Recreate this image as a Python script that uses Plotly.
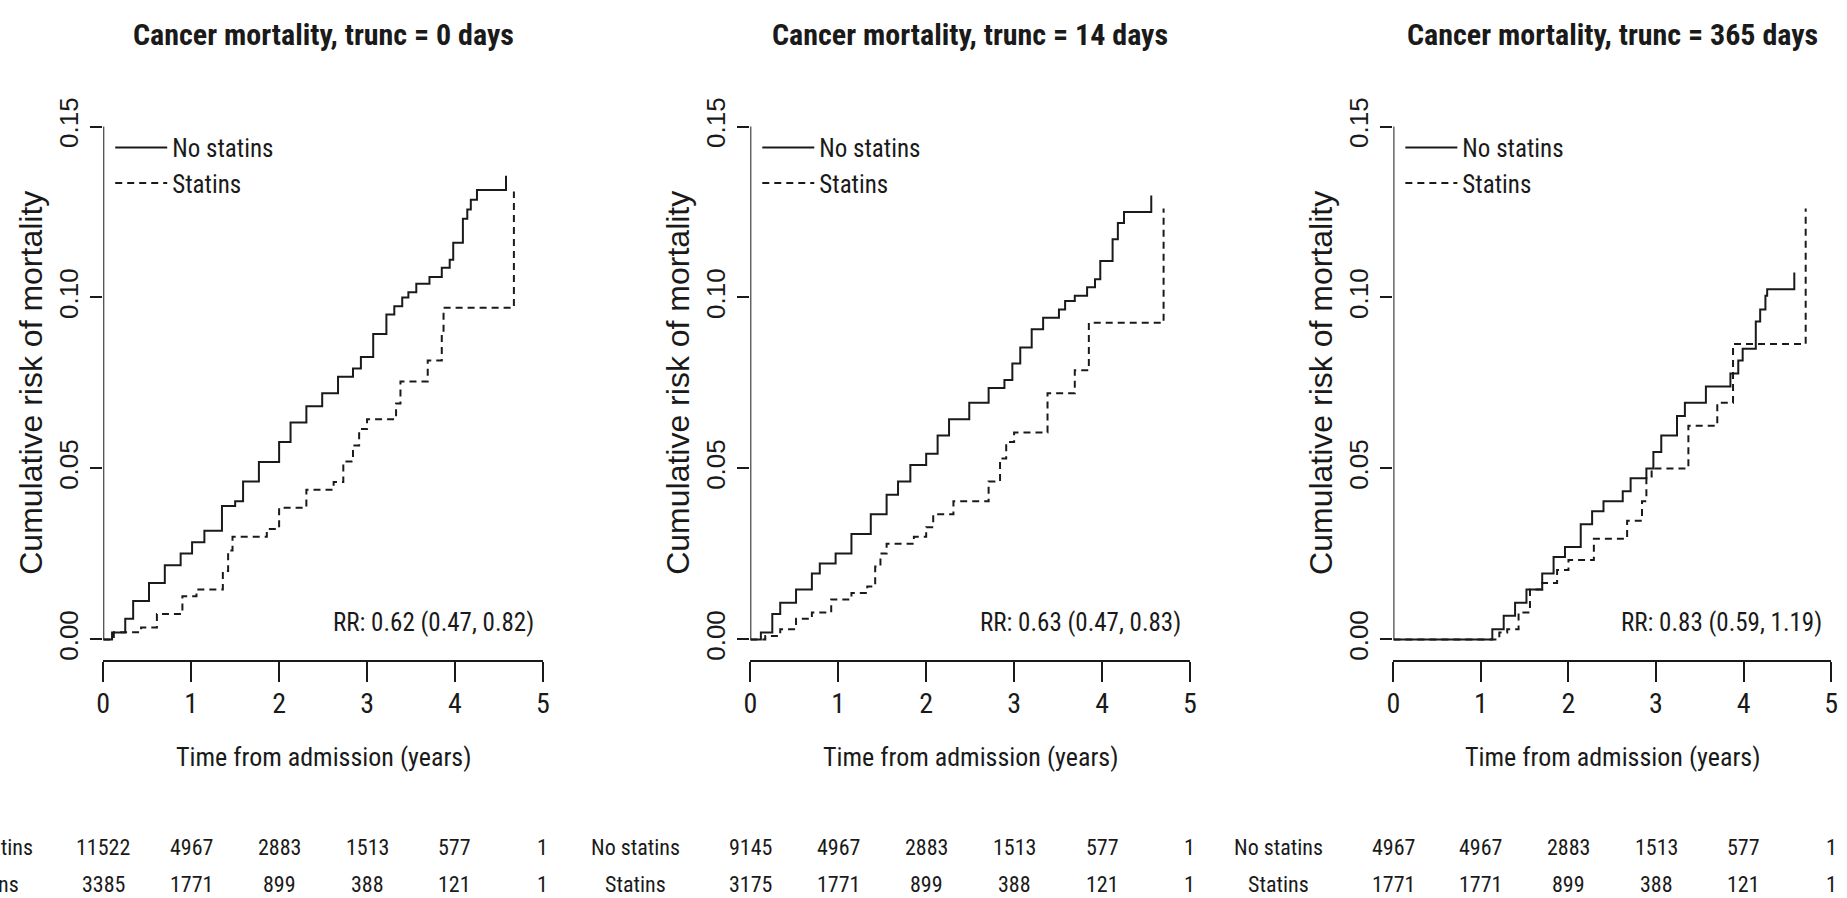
import plotly.graph_objects as go

# ---------------- data ----------------
TIME_TICKS = [0, 1, 2, 3, 4, 5]
RISK_TICKS = [0.0, 0.05, 0.10, 0.15]
RISK_TICK_TEXT = ["0.00", "0.05", "0.10", "0.15"]
SERIES_NAMES = ["No statins", "Statins"]
PANEL_TITLES = ["Cancer mortality, trunc = 0 days",
                "Cancer mortality, trunc = 14 days",
                "Cancer mortality, trunc = 365 days"]
RR_TEXT = ["RR: 0.62 (0.47, 0.82)", "RR: 0.63 (0.47, 0.83)", "RR: 0.83 (0.59, 1.19)"]

# panel 1 (trunc = 0 days)
P1_NO_T = [0, 0.10, 0.25, 0.34, 0.52, 0.70, 0.88, 1.01, 1.15, 1.35, 1.50, 1.59, 1.77, 2.00, 2.13, 2.31,
           2.49, 2.67, 2.84, 2.93, 3.07, 3.22, 3.31, 3.40, 3.47, 3.56, 3.71, 3.85, 3.94, 3.98, 4.09,
           4.14, 4.18, 4.25, 4.58]
P1_NO_Y = [0, 0.002, 0.006, 0.0112, 0.0165, 0.0217, 0.0251, 0.0284, 0.0318, 0.039, 0.0404, 0.0462,
           0.0519, 0.0577, 0.0634, 0.0682, 0.072, 0.0768, 0.0792, 0.0826, 0.0893, 0.095, 0.0974,
           0.100, 0.1015, 0.104, 0.106, 0.1087, 0.111, 0.116, 0.123, 0.1257, 0.1286, 0.1314, 0.1356]
P1_ST_T = [0, 0.12, 0.43, 0.61, 0.90, 1.06, 1.36, 1.42, 1.47, 1.86, 2.00, 2.31, 2.62, 2.73, 2.84, 2.91,
           3.00, 3.33, 3.38, 3.69, 3.85, 3.87, 4.67]
P1_ST_Y = [0, 0.0021, 0.0035, 0.0074, 0.0126, 0.0146, 0.020, 0.026, 0.030, 0.0323, 0.0385, 0.0438,
           0.046, 0.052, 0.0567, 0.0615, 0.0644, 0.069, 0.0754, 0.0816, 0.090, 0.097, 0.131]

# panel 2 (trunc = 14 days)
P2_NO_T = [0, 0.12, 0.25, 0.34, 0.52, 0.70, 0.79, 0.97, 1.15, 1.37, 1.55, 1.68, 1.82, 2.00, 2.13, 2.26,
           2.49, 2.71, 2.89, 2.98, 3.07, 3.20, 3.33, 3.51, 3.58, 3.69, 3.83, 3.92, 3.98, 4.12, 4.18,
           4.25, 4.56]
P2_NO_Y = [0, 0.002, 0.0074, 0.0107, 0.0146, 0.0193, 0.0222, 0.0251, 0.0308, 0.0366, 0.0423, 0.0462,
           0.051, 0.0543, 0.0596, 0.0644, 0.0692, 0.0735, 0.0759, 0.0807, 0.0854, 0.0907, 0.0941,
           0.0965, 0.099, 0.1005, 0.103, 0.1053, 0.1107, 0.117, 0.1218, 0.125, 0.1298]
P2_ST_T = [0, 0.17, 0.34, 0.52, 0.70, 0.92, 1.15, 1.33, 1.42, 1.48, 1.55, 1.86, 2.00, 2.08, 2.31, 2.71,
           2.84, 2.91, 3.00, 3.38, 3.69, 3.85, 4.70]
P2_ST_Y = [0, 0.001, 0.003, 0.006, 0.0079, 0.0117, 0.0136, 0.0155, 0.0213, 0.0251, 0.028, 0.030,
           0.0328, 0.0366, 0.0404, 0.0462, 0.0529, 0.0577, 0.0605, 0.072, 0.0787, 0.0926, 0.126]

# panel 3 (trunc = 365 days)
P3_NO_T = [0, 1.04, 1.13, 1.26, 1.39, 1.52, 1.70, 1.83, 1.96, 2.14, 2.27, 2.40, 2.62, 2.71, 2.89, 2.97,
           3.06, 3.24, 3.33, 3.57, 3.85, 3.94, 3.99, 4.14, 4.19, 4.25, 4.27, 4.58]
P3_NO_Y = [0, 0, 0.003, 0.0069, 0.0107, 0.0146, 0.0193, 0.0241, 0.027, 0.0337, 0.0375, 0.0404, 0.0433,
           0.0471, 0.050, 0.0548, 0.0596, 0.0653, 0.0692, 0.074, 0.0778, 0.0816, 0.085, 0.093, 0.0965,
           0.1005, 0.1024, 0.1073]
P3_ST_T = [0, 1.08, 1.21, 1.30, 1.43, 1.56, 1.70, 1.87, 2.00, 2.29, 2.67, 2.84, 2.89, 2.95, 3.37, 3.70,
           3.88, 4.71]
P3_ST_Y = [0, 0, 0.002, 0.003, 0.0079, 0.0146, 0.0165, 0.0203, 0.0232, 0.0294, 0.0347, 0.0404, 0.0471,
           0.050, 0.0625, 0.0692, 0.0864, 0.126]

# numbers at risk
RISK_NO = [[11522, 4967, 2883, 1513, 577, 1],
           [9145, 4967, 2883, 1513, 577, 1],
           [4967, 4967, 2883, 1513, 577, 1]]
RISK_ST = [[3385, 1771, 899, 388, 121, 1],
           [3175, 1771, 899, 388, 121, 1],
           [1771, 1771, 899, 388, 121, 1]]

CURVES = [((P1_NO_T, P1_NO_Y), (P1_ST_T, P1_ST_Y)),
          ((P2_NO_T, P2_NO_Y), (P2_ST_T, P2_ST_Y)),
          ((P3_NO_T, P3_NO_Y), (P3_ST_T, P3_ST_Y))]

# ---------------- layout constants ----------------
W, H = 1847, 898
X_DOMAINS_PX = [(97, 540), (749, 1192), (1397, 1838)]
Y_DOMAIN_PX = (658.5, 99.0)   # bottom, top (pixels from top)
Y_RANGE = [-0.006, 0.156]
NARROW = "Liberation Sans Narrow, Arial Narrow, Roboto Condensed, Liberation Sans, sans-serif"
REG = "Liberation Sans, Arial, Helvetica, sans-serif"
INK = "#1a1a1a"
DASHES = ["solid", "7px,5px"]

fig = go.Figure()
annotations = []
shapes = []
layout = dict(width=W, height=H, margin=dict(l=0, r=0, t=0, b=0),
              paper_bgcolor="white", plot_bgcolor="white", showlegend=True)

ydom = [(H - Y_DOMAIN_PX[0]) / H, (H - Y_DOMAIN_PX[1]) / H]
ymid_px = (Y_DOMAIN_PX[0] + Y_DOMAIN_PX[1]) / 2

for i in range(3):
    sfx = "" if i == 0 else str(i + 1)
    xa, ya = "x" + sfx, "y" + sfx
    leg = "legend" + sfx
    for j, (tt, yy) in enumerate(CURVES[i]):
        fig.add_trace(go.Scatter(
            x=tt, y=yy, mode="lines", line_shape="hv", name=SERIES_NAMES[j],
            line=dict(color=INK, width=2, dash=DASHES[j]),
            xaxis=xa, yaxis=ya, legend=leg, legendgroup=f"g{i}{j}",
            showlegend=True, hoverinfo="skip"))
    x0, x1 = X_DOMAINS_PX[i]
    layout["xaxis" + sfx] = dict(
        domain=[x0 / W, x1 / W], range=[TIME_TICKS[0], TIME_TICKS[-1]], anchor=ya,
        tickvals=TIME_TICKS, ticktext=[str(t) for t in TIME_TICKS],
        ticks="outside", ticklen=20, tickwidth=2, tickcolor=INK,
        showline=True, linecolor=INK, linewidth=2,
        showgrid=False, zeroline=False, ticklabelstandoff=-3,
        tickfont=dict(family=NARROW, size=28, color=INK))
    layout["yaxis" + sfx] = dict(
        domain=ydom, range=Y_RANGE, anchor=xa,
        tickvals=RISK_TICKS, ticktext=RISK_TICK_TEXT, tickangle=-90,
        ticks="outside", ticklen=12, tickwidth=2, tickcolor=INK,
        showline=False, showgrid=False, zeroline=False, ticklabelstandoff=2,
        tickfont=dict(family=REG, size=26, color=INK))
    # y axis line from first to last tick (R style)
    shapes.append(dict(type="line", xref=xa, yref=ya, x0=TIME_TICKS[0], x1=TIME_TICKS[0],
                       y0=RISK_TICKS[0], y1=RISK_TICKS[-1], line=dict(color=INK, width=2)))
    # legend per panel
    layout[leg] = dict(x=(x0 + 7) / W, y=(H - 118) / H, xanchor="left", yanchor="top",
                       bgcolor="rgba(0,0,0,0)", font=dict(family=NARROW, size=25, color=INK),
                       tracegroupgap=6, itemwidth=52, traceorder="normal")
    # title
    annotations.append(dict(text=f"<b>{PANEL_TITLES[i]}</b>", xref="paper", x=(x0 + x1) / 2 / W,
                            yref="paper", y=(H - 27) / H, showarrow=False, xanchor="center",
                            yanchor="middle", font=dict(family=NARROW, size=30, color=INK)))
    # x title
    annotations.append(dict(text="Time from admission (years)", xref="paper", x=(x0 + x1) / 2 / W,
                            yref="paper", y=(H - 757) / H, showarrow=False, xanchor="center",
                            yanchor="middle", font=dict(family=NARROW, size=26, color=INK)))
    # y title
    annotations.append(dict(text="Cumulative risk of mortality", xref="paper", x=(x0 - 73) / W,
                            yref="paper", y=(H - ymid_px) / H, textangle=-90,
                            showarrow=False, xanchor="center", yanchor="middle",
                            font=dict(family=REG, size=32, color=INK)))
    # RR text
    annotations.append(dict(text=RR_TEXT[i], xref=xa, x=4.92, yref=ya, y=0.005,
                            showarrow=False, xanchor="right", yanchor="middle",
                            font=dict(family=NARROW, size=25, color=INK)))
    # numbers at risk
    for r, (lab, vals) in enumerate([(SERIES_NAMES[0], RISK_NO[i]), (SERIES_NAMES[1], RISK_ST[i])]):
        yy = (H - (848 if r == 0 else 885)) / H
        annotations.append(dict(text=lab, xref="paper", x=(x0 - 116) / W, yref="paper", y=yy,
                                showarrow=False, xanchor="center", yanchor="middle",
                                font=dict(family=NARROW, size=22, color=INK)))
        for t, v in zip(TIME_TICKS, vals):
            annotations.append(dict(text=str(v), xref=xa, x=t, yref="paper", y=yy,
                                    showarrow=False, xanchor="center", yanchor="middle",
                                    font=dict(family=NARROW, size=22, color=INK)))

layout["annotations"] = annotations
layout["shapes"] = shapes
fig.update_layout(**layout)
fig.write_html("out.html")
